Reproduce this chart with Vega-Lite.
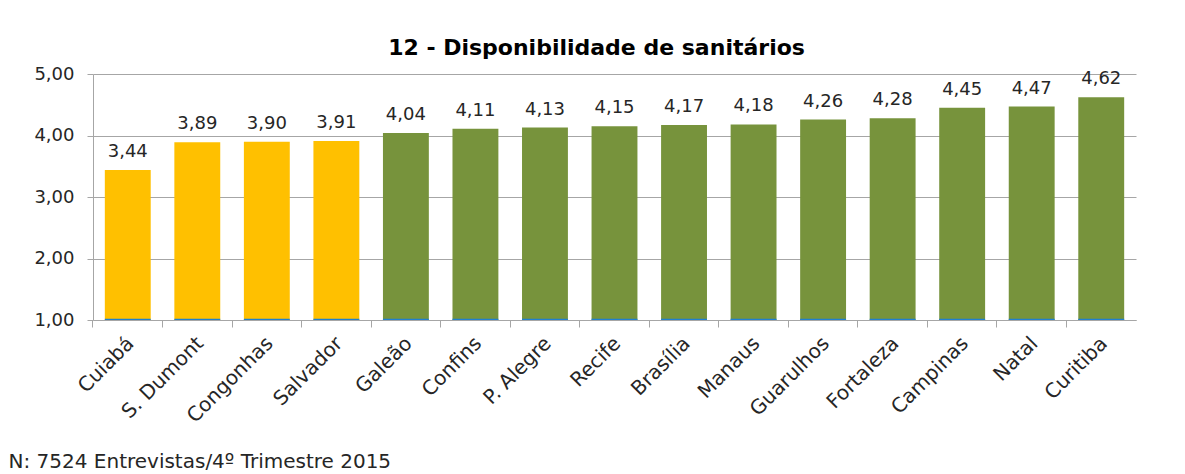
{
  "$schema": "https://vega.github.io/schema/vega-lite/v6.json",
  "autosize": "none",
  "width": 1043,
  "height": 246,
  "padding": {"left": 93, "top": 74, "right": 49, "bottom": 154},
  "background": "white",
  "title": {
    "text": "12 - Disponibilidade de sanitários",
    "font": "DejaVu Sans",
    "fontSize": 22,
    "fontWeight": "bold",
    "color": "#000000",
    "anchor": "middle",
    "dx": -18,
    "offset": 5
  },
  "data": {
    "values": [
      {"aeroporto": "Cuiabá", "nota": 3.44, "grupo": "abaixo"},
      {"aeroporto": "S. Dumont", "nota": 3.89, "grupo": "abaixo"},
      {"aeroporto": "Congonhas", "nota": 3.90, "grupo": "abaixo"},
      {"aeroporto": "Salvador", "nota": 3.91, "grupo": "abaixo"},
      {"aeroporto": "Galeão", "nota": 4.04, "grupo": "acima"},
      {"aeroporto": "Confins", "nota": 4.11, "grupo": "acima"},
      {"aeroporto": "P. Alegre", "nota": 4.13, "grupo": "acima"},
      {"aeroporto": "Recife", "nota": 4.15, "grupo": "acima"},
      {"aeroporto": "Brasília", "nota": 4.17, "grupo": "acima"},
      {"aeroporto": "Manaus", "nota": 4.18, "grupo": "acima"},
      {"aeroporto": "Guarulhos", "nota": 4.26, "grupo": "acima"},
      {"aeroporto": "Fortaleza", "nota": 4.28, "grupo": "acima"},
      {"aeroporto": "Campinas", "nota": 4.45, "grupo": "acima"},
      {"aeroporto": "Natal", "nota": 4.47, "grupo": "acima"},
      {"aeroporto": "Curitiba", "nota": 4.62, "grupo": "acima"}
    ]
  },
  "encoding": {
    "x": {
      "field": "aeroporto",
      "type": "nominal",
      "sort": null,
      "scale": {"paddingInner": 0.34, "paddingOuter": 0.17},
      "axis": {
        "title": "N: 7524 Entrevistas/4º Trimestre 2015",
        "titleFont": "DejaVu Sans",
        "titleFontSize": 20,
        "titleFontWeight": "normal",
        "titleColor": "#262626",
        "titleAnchor": "start",
        "titleAlign": "left",
        "titleBaseline": "alphabetic",
        "titleX": -85,
        "titleY": 147,
        "labelAngle": -45,
        "labelAlign": "right",
        "labelBaseline": "middle",
        "labelPadding": 13,
        "labelOffset": 3,
        "labelFont": "DejaVu Sans",
        "labelFontSize": 20,
        "labelColor": "#262626",
        "bandPosition": -0.2576,
        "tickSize": 7,
        "tickColor": "#a6a6a6",
        "domainColor": "#a6a6a6",
        "grid": false
      }
    }
  },
  "layer": [
    {
      "mark": {"type": "bar"},
      "encoding": {
        "y": {
          "field": "nota",
          "type": "quantitative",
          "scale": {"domain": [1, 5], "zero": false, "nice": false},
          "axis": {
            "title": null,
            "values": [1, 2, 3, 4, 5],
            "format": ".2f",
            "labelFont": "DejaVu Sans",
            "labelFontSize": 18,
            "labelColor": "#262626",
            "labelPadding": 13,
            "tickSize": 6,
            "tickColor": "#a6a6a6",
            "domainColor": "#a6a6a6",
            "gridColor": "#a6a6a6",
            "gridWidth": 1
          }
        },
        "y2": {"datum": 1},
        "color": {
          "field": "grupo",
          "type": "nominal",
          "scale": {"domain": ["abaixo", "acima"], "range": ["#FFC000", "#77933C"]},
          "legend": null
        }
      }
    },
    {
      "mark": {"type": "bar", "color": "#1f7fd0"},
      "encoding": {
        "y": {"datum": 1},
        "y2": {"datum": 1.02}
      }
    },
    {
      "mark": {
        "type": "text",
        "baseline": "bottom",
        "dy": -9,
        "font": "DejaVu Sans",
        "fontSize": 18,
        "color": "#262626"
      },
      "encoding": {
        "y": {"field": "nota", "type": "quantitative"},
        "text": {"field": "nota", "type": "quantitative", "format": ".2f"}
      }
    }
  ],
  "config": {
    "locale": {
      "number": {"decimal": ",", "thousands": ".", "grouping": [3], "currency": ["R$", ""]}
    },
    "view": {"stroke": null}
  }
}
